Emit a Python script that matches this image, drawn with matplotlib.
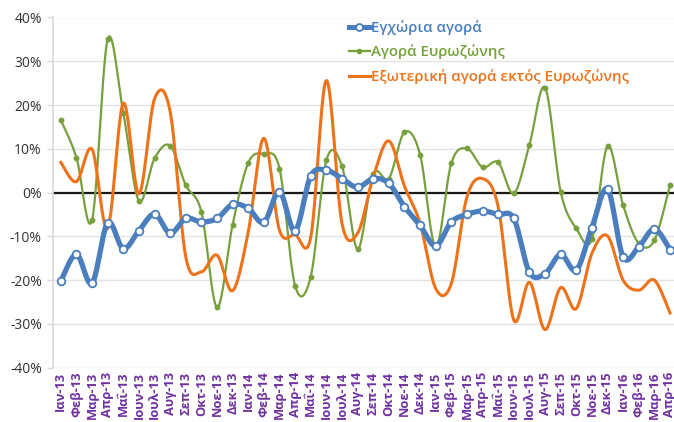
import numpy as np
import matplotlib
matplotlib.use("Agg")
import matplotlib.pyplot as plt
from matplotlib.ticker import FuncFormatter
from matplotlib.lines import Line2D

plt.rcParams['font.family'] = ['Open Sans', 'DejaVu Sans']

months = ['Ιαν', 'Φεβ', 'Μαρ', 'Απρ', 'Μαΐ', 'Ιουν', 'Ιουλ', 'Αυγ', 'Σεπ', 'Οκτ', 'Νοε', 'Δεκ']
labels = [f"{months[i % 12]}-{13 + i // 12}" for i in range(40)]

domestic = [-20.2, -14.1, -20.7, -6.9, -12.8, -8.7, -4.9, -9.3, -5.9, -6.7,
            -5.9, -2.7, -3.6, -6.8, 0.2, -8.7, 3.8, 5.1, 3.2, 1.2,
            3.2, 2.1, -3.2, -7.5, -12.2, -6.7, -5.0, -4.2, -5.0, -5.9,
            -18.2, -18.5, -14.1, -17.7, -8.0, 0.8, -14.7, -12.4, -8.3, -13.0]
eurozone = [16.6, 8.0, -6.3, 35.0, 18.2, -1.9, 7.8, 10.7, 1.7, -4.4,
            -26.2, -7.3, 6.8, 8.8, 5.5, -21.3, -19.2, 7.4, 6.1, -12.9,
            4.2, 3.2, 13.8, 8.7, -12.4, 6.7, 10.1, 5.8, 6.9, -0.2,
            10.9, 24.0, 0.2, -8.2, -10.7, 10.6, -2.9, -11.6, -10.9, 1.7]
outside = [6.9, 2.5, 9.9, -8.2, 20.4, -0.3, 21.4, 18.5, -14.7, -18.1,
           -14.3, -22.4, -9.0, 12.4, -8.6, -9.6, -10.2, 25.6, -7.0, -9.3,
           3.5, 11.8, 1.5, -7.0, -21.9, -20.8, -1.0, 3.2, -3.2, -29.1,
           -20.5, -31.3, -21.7, -26.5, -13.9, -9.9, -20.0, -22.3, -20.0, -27.5]

names = ['Εγχώρια αγορά', 'Αγορά Ευρωζώνης', 'Εξωτερική αγορά εκτός Ευρωζώνης']
c_blue, c_green, c_orange = '#4A7EBF', '#76A03C', '#EE7219'
purple = '#7030A0'


def smooth(x, y, n=24):
    x = np.asarray(x, float)
    y = np.asarray(y, float)
    xs, ys = [], []
    m = len(x)
    for i in range(m - 1):
        p0 = np.array([x[max(i - 1, 0)], y[max(i - 1, 0)]])
        p1 = np.array([x[i], y[i]])
        p2 = np.array([x[i + 1], y[i + 1]])
        p3 = np.array([x[min(i + 2, m - 1)], y[min(i + 2, m - 1)]])
        c1 = p1 + (p2 - p0) / 6
        c2 = p2 - (p3 - p1) / 6
        t = np.linspace(0, 1, n, endpoint=(i == m - 2))[:, None]
        pts = ((1 - t) ** 3) * p1 + 3 * ((1 - t) ** 2) * t * c1 + 3 * (1 - t) * t ** 2 * c2 + t ** 3 * p2
        xs.append(pts[:, 0])
        ys.append(pts[:, 1])
    return np.concatenate(xs), np.concatenate(ys)


fig = plt.figure(figsize=(6.74, 4.22), dpi=100)
ax = fig.add_axes([53 / 674, 1 - 367.7 / 422, (677.8 - 53) / 674, (367.7 - 17.5) / 422])

x = np.arange(len(labels))

ax.axhline(0, color='#1a1a1a', lw=1.6, zorder=2)

sx, sy = smooth(x, eurozone)
ax.plot(sx, sy, color=c_green, lw=1.6, zorder=3)
ax.plot(x, eurozone, 'o', color=c_green, ms=3.2, zorder=3)

sx, sy = smooth(x, outside)
ax.plot(sx, sy, color=c_orange, lw=2.2, zorder=4)

sx, sy = smooth(x, domestic)
ax.plot(sx, sy, color=c_blue, lw=3.8, zorder=5, solid_capstyle='round')
ax.plot(x, domestic, 'o', mfc='white', mec=c_blue, mew=1.3, ms=5.5, zorder=6)

handles = [
    Line2D([], [], color=c_blue, lw=3.6, marker='o', mfc='white', mec=c_blue, mew=1.3, ms=5),
    Line2D([], [], color=c_green, lw=1.6, marker='o', ms=3),
    Line2D([], [], color=c_orange, lw=2.2),
]
leg = ax.legend(handles, names, loc='upper left', bbox_to_anchor=(0.452, 1.03),
                frameon=False, handlelength=1.4, handletextpad=0.1, labelspacing=0.62,
                prop={'size': 10.8, 'weight': 'semibold'})
for t, c in zip(leg.get_texts(), [c_blue, c_green, c_orange]):
    t.set_color(c)

ax.set_xlim(-0.5, len(labels) - 0.5)
ax.set_ylim(-40, 40)
ax.set_yticks(np.arange(-40, 41, 10))
ax.yaxis.set_major_formatter(FuncFormatter(lambda v, p: f"{v:.0f}%"))
ax.set_xticks(x)
ax.set_xticklabels(labels, rotation=90, color=purple, fontweight='bold', fontsize=9.3)
ax.tick_params(axis='x', length=0, pad=3)
ax.tick_params(axis='y', labelsize=10, colors='#D9D9D9', labelcolor='#333333', length=4, width=1, pad=4)
ax.grid(axis='y', color='#E3E3E3', lw=1, zorder=0)
ax.set_axisbelow(True)
for s in ['top', 'right', 'bottom']:
    ax.spines[s].set_visible(False)
ax.spines['left'].set_color('#D9D9D9')
ax.spines['left'].set_linewidth(1.2)

fig.savefig('out.png', dpi=100)
